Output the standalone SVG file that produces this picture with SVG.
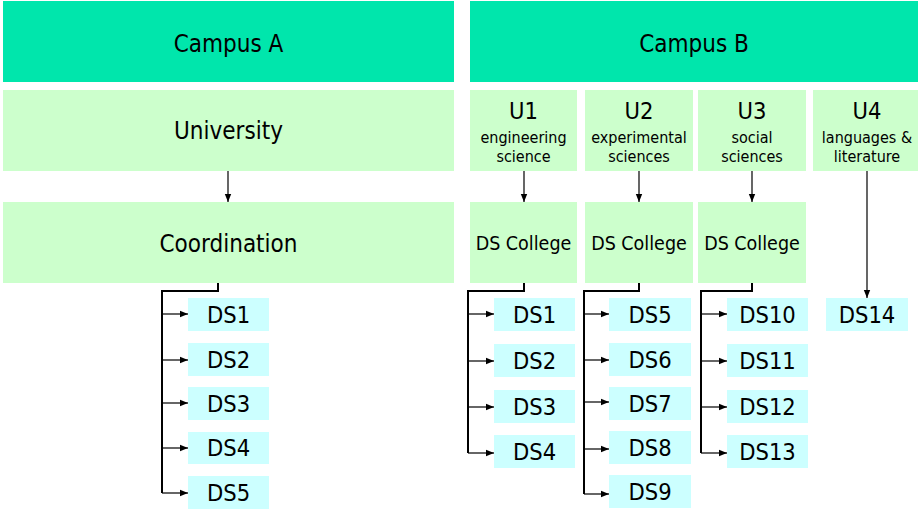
<svg xmlns="http://www.w3.org/2000/svg" width="918" height="509" viewBox="0 0 918 509">
<defs>
<style>
.campus{fill:#00E6AC}
.unit{fill:#CCFFCC}
.ds{fill:#CCFFFF}
text{font-family:"DejaVu Sans Condensed","DejaVu Sans",sans-serif;fill:#000;text-anchor:middle}
.t24{font-size:24px}
.t22{font-size:23.5px}
.t20{font-size:19.5px}
.t16{font-size:16px}
.dst{font-size:23.5px}
.trunk{fill:none;stroke:#000;stroke-width:2}
.arr{fill:none;stroke:#000;stroke-width:1.2;marker-end:url(#ah)}
</style>
<marker id="ah" viewBox="0 0 10 10" refX="10" refY="5" markerWidth="8" markerHeight="8" markerUnits="userSpaceOnUse" orient="auto">
<path d="M0,1 L10,5 L0,9 Z" fill="#000"/>
</marker>
</defs>
<rect width="918" height="509" fill="#fff"/>

<g id="campusA"><rect class="campus" x="3" y="1" width="451" height="81"/><text class="t24" x="228.5" y="52">Campus A</text></g>
<g id="campusB"><rect class="campus" x="470" y="1" width="448" height="81"/><text class="t24" x="694" y="52">Campus B</text></g>

<g id="university"><rect class="unit" x="3" y="90" width="451" height="81"/><text class="t24" x="228.5" y="139">University</text></g>
<g id="coordination"><rect class="unit" x="3" y="202" width="451" height="81"/><text class="t24" x="228.5" y="252">Coordination</text></g>

<g id="u1"><rect class="unit" x="470" y="90" width="107" height="81"/><text class="t22" x="523.5" y="119">U1</text><text class="t16" x="523.5" y="143">engineering</text><text class="t16" x="523.5" y="162">science</text></g>
<g id="u2"><rect class="unit" x="585" y="90" width="108" height="81"/><text class="t22" x="639" y="119">U2</text><text class="t16" x="639" y="143">experimental</text><text class="t16" x="639" y="162">sciences</text></g>
<g id="u3"><rect class="unit" x="698" y="90" width="108" height="81"/><text class="t22" x="752" y="119">U3</text><text class="t16" x="752" y="143">social</text><text class="t16" x="752" y="162">sciences</text></g>
<g id="u4"><rect class="unit" x="813" y="90" width="105" height="81"/><text class="t22" x="867" y="119">U4</text><text class="t16" x="867" y="143">languages &amp;</text><text class="t16" x="867" y="162">literature</text></g>

<g id="college1"><rect class="unit" x="470" y="202" width="107" height="81"/><text class="t20" x="523.5" y="250">DS College</text></g>
<g id="college2"><rect class="unit" x="585" y="202" width="108" height="81"/><text class="t20" x="639" y="250">DS College</text></g>
<g id="college3"><rect class="unit" x="698" y="202" width="108" height="81"/><text class="t20" x="752" y="250">DS College</text></g>

<g id="a-ds1"><rect class="ds" x="188" y="298" width="81" height="33"/><text class="dst" x="228.5" y="323">DS1</text></g>
<g id="a-ds2"><rect class="ds" x="188" y="343" width="81" height="33"/><text class="dst" x="228.5" y="368">DS2</text></g>
<g id="a-ds3"><rect class="ds" x="188" y="387" width="81" height="33"/><text class="dst" x="228.5" y="412">DS3</text></g>
<g id="a-ds4"><rect class="ds" x="188" y="432" width="81" height="32"/><text class="dst" x="228.5" y="456">DS4</text></g>
<g id="a-ds5"><rect class="ds" x="188" y="476" width="81" height="33"/><text class="dst" x="228.5" y="501">DS5</text></g>

<g id="b-ds1"><rect class="ds" x="494" y="298" width="81" height="33"/><text class="dst" x="534.5" y="323">DS1</text></g>
<g id="b-ds2"><rect class="ds" x="494" y="344" width="81" height="33"/><text class="dst" x="534.5" y="369">DS2</text></g>
<g id="b-ds3"><rect class="ds" x="494" y="390" width="81" height="33"/><text class="dst" x="534.5" y="415">DS3</text></g>
<g id="b-ds4"><rect class="ds" x="494" y="435" width="81" height="33"/><text class="dst" x="534.5" y="460">DS4</text></g>

<g id="b-ds5"><rect class="ds" x="609" y="298" width="82" height="33"/><text class="dst" x="650" y="323">DS5</text></g>
<g id="b-ds6"><rect class="ds" x="609" y="343" width="82" height="33"/><text class="dst" x="650" y="368">DS6</text></g>
<g id="b-ds7"><rect class="ds" x="609" y="387" width="82" height="33"/><text class="dst" x="650" y="412">DS7</text></g>
<g id="b-ds8"><rect class="ds" x="609" y="431" width="82" height="33"/><text class="dst" x="650" y="456">DS8</text></g>
<g id="b-ds9"><rect class="ds" x="609" y="475" width="82" height="33"/><text class="dst" x="650" y="500">DS9</text></g>

<g id="b-ds10"><rect class="ds" x="727" y="298" width="81" height="33"/><text class="dst" x="767.5" y="323">DS10</text></g>
<g id="b-ds11"><rect class="ds" x="727" y="344" width="81" height="33"/><text class="dst" x="767.5" y="369">DS11</text></g>
<g id="b-ds12"><rect class="ds" x="727" y="390" width="81" height="33"/><text class="dst" x="767.5" y="415">DS12</text></g>
<g id="b-ds13"><rect class="ds" x="727" y="435" width="81" height="33"/><text class="dst" x="767.5" y="460">DS13</text></g>

<g id="b-ds14"><rect class="ds" x="826" y="298" width="82" height="33"/><text class="dst" x="867" y="323">DS14</text></g>

<g id="connectors">
<path class="arr" d="M228,171 V202"/>
<path class="arr" d="M524,171 V202"/>
<path class="arr" d="M639,171 V202"/>
<path class="arr" d="M752,171 V202"/>
<path class="arr" d="M867,171 V298"/>

<path class="trunk" d="M218,283 V291 H162 V493"/>
<path class="arr" d="M162,314 H188"/>
<path class="arr" d="M162,360 H188"/>
<path class="arr" d="M162,403 H188"/>
<path class="arr" d="M162,448 H188"/>
<path class="arr" d="M162,493 H188"/>

<path class="trunk" d="M524,283 V291 H468 V453"/>
<path class="arr" d="M468,314 H494"/>
<path class="arr" d="M468,361 H494"/>
<path class="arr" d="M468,407 H494"/>
<path class="arr" d="M468,453 H494"/>

<path class="trunk" d="M639,283 V291 H584 V494"/>
<path class="arr" d="M584,314 H609"/>
<path class="arr" d="M584,360 H609"/>
<path class="arr" d="M584,402 H609"/>
<path class="arr" d="M584,449 H609"/>
<path class="arr" d="M584,494 H609"/>

<path class="trunk" d="M752,283 V291 H701 V453"/>
<path class="arr" d="M701,314 H727"/>
<path class="arr" d="M701,361 H727"/>
<path class="arr" d="M701,407 H727"/>
<path class="arr" d="M701,453 H727"/>
</g>
</svg>
